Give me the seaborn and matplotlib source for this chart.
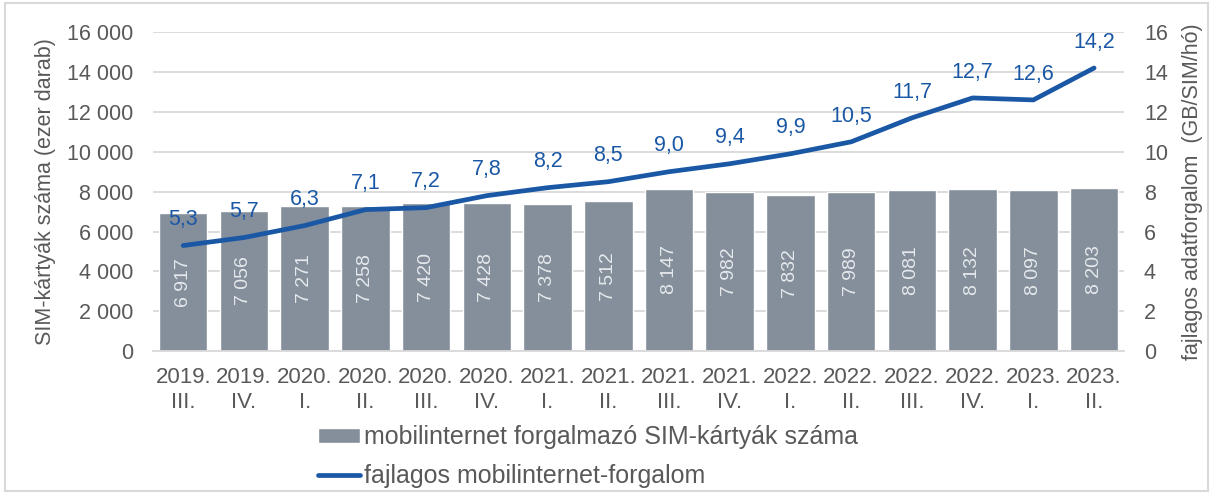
import seaborn as sns
import pandas as pd
import numpy as np
import matplotlib.pyplot as plt
from matplotlib.ticker import FuncFormatter, FixedLocator

years = ['2019.', '2019.', '2020.', '2020.', '2020.', '2020.', '2021.', '2021.',
         '2021.', '2021.', '2022.', '2022.', '2022.', '2022.', '2023.', '2023.']
quarters = ['III.', 'IV.', 'I.', 'II.', 'III.', 'IV.', 'I.', 'II.',
            'III.', 'IV.', 'I.', 'II.', 'III.', 'IV.', 'I.', 'II.']
sim_cards = [6917, 7056, 7271, 7258, 7420, 7428, 7378, 7512,
             8147, 7982, 7832, 7989, 8081, 8132, 8097, 8203]
traffic = [5.3, 5.7, 6.3, 7.1, 7.2, 7.8, 8.2, 8.5, 9.0, 9.4, 9.9, 10.5, 11.7, 12.7, 12.6, 14.2]

labels = [y + '\n' + q for y, q in zip(years, quarters)]
df = pd.DataFrame({'period': labels, 'sim': sim_cards, 'traffic': traffic})
df['pos'] = np.arange(len(df))

bar_col = '#848F9B'
line_col = '#1A58A5'
txt_col = '#595959'
grid_col = '#D9D9D9'
fs = 15.5

sns.set_style('white')
plt.rcParams['font.family'] = ['Liberation Sans', 'DejaVu Sans']

fig = plt.figure(figsize=(12.13, 4.94), dpi=100)
ax = fig.add_axes([0.126, 0.289, 0.801, 0.646])

sns.barplot(data=df, x='period', y='sim', color=bar_col, width=0.8, saturation=1,
            ax=ax, zorder=2, label='mobilinternet forgalmazó SIM-kártyák száma')
if ax.get_legend() is not None:
    ax.get_legend().remove()
ax.set_ylim(0, 16000)
ax.set_xlim(-0.5, len(df) - 0.5)
ax.yaxis.set_major_locator(FixedLocator(range(0, 16001, 2000)))
ax.yaxis.set_major_formatter(FuncFormatter(lambda v, p: f'{int(v):,}'.replace(',', ' ')))
ax.grid(axis='y', color=grid_col, lw=1.3, zorder=0)
ax.set_axisbelow(True)
for s in ['top', 'right', 'left']:
    ax.spines[s].set_visible(False)
ax.spines['bottom'].set_color(grid_col)
ax.spines['bottom'].set_linewidth(1.3)
ax.set_xticks(range(len(df)), minor=False)
ax.set_xticks(np.arange(-0.5, len(df)), minor=True)
ax.tick_params(axis='x', length=0, labelsize=16, labelcolor=txt_col, pad=11)
ax.tick_params(axis='y', length=0, labelsize=fs, labelcolor=txt_col, pad=14)
ax.tick_params(axis='x', which='minor', length=6, color=grid_col, width=1.3)
ax.set_xlabel('')
ax.set_ylabel('SIM-kártyák száma (ezer darab)', fontsize=fs, color=txt_col, labelpad=8)
for t in ax.get_xticklabels():
    t.set_linespacing(1.25)

for i, v in enumerate(sim_cards):
    ax.text(i, v / 2, f'{v:,}'.replace(',', ' '), rotation=90, ha='center', va='center',
            color='#E6E9EC', fontsize=14)

ax2 = ax.twinx()
sns.lineplot(data=df, x='pos', y='traffic', color=line_col, lw=3.4, ax=ax2,
             label='fajlagos mobilinternet-forgalom', legend=False, zorder=3)
ax2.set_ylim(0, 16)
ax2.set_xlim(-0.5, len(df) - 0.5)
ax2.yaxis.set_major_locator(FixedLocator(range(0, 17, 2)))
for s in ['top', 'right', 'left', 'bottom']:
    ax2.spines[s].set_visible(False)
ax2.tick_params(axis='y', length=0, labelsize=fs, labelcolor=txt_col, pad=14)
ax2.set_ylabel('fajlagos adatforgalom  (GB/SIM/hó)', fontsize=fs, color=txt_col, labelpad=10)
ax2.set_xlabel('')

for i, v in enumerate(traffic):
    ax2.annotate(f'{v:.1f}'.replace('.', ','), (i, v), xytext=(0, 11), textcoords='offset points',
                 ha='center', va='bottom', color=line_col, fontsize=fs)

h1, l1 = ax.get_legend_handles_labels()
h2, l2 = ax2.get_legend_handles_labels()
fig.legend(h1 + h2, l1 + l2, loc='center left', bbox_to_anchor=(0.262, 0.075), ncol=1,
           frameon=False, fontsize=18, labelcolor=txt_col, handlelength=1.7,
           handleheight=0.5, handletextpad=0.15, labelspacing=0.6, borderpad=0,
           borderaxespad=0)

fig.patches.append(plt.Rectangle((0.004, 0.006), 0.992, 0.988, transform=fig.transFigure,
                                 fill=False, edgecolor=grid_col, lw=1.5))
fig.savefig('out.png', dpi=100)
